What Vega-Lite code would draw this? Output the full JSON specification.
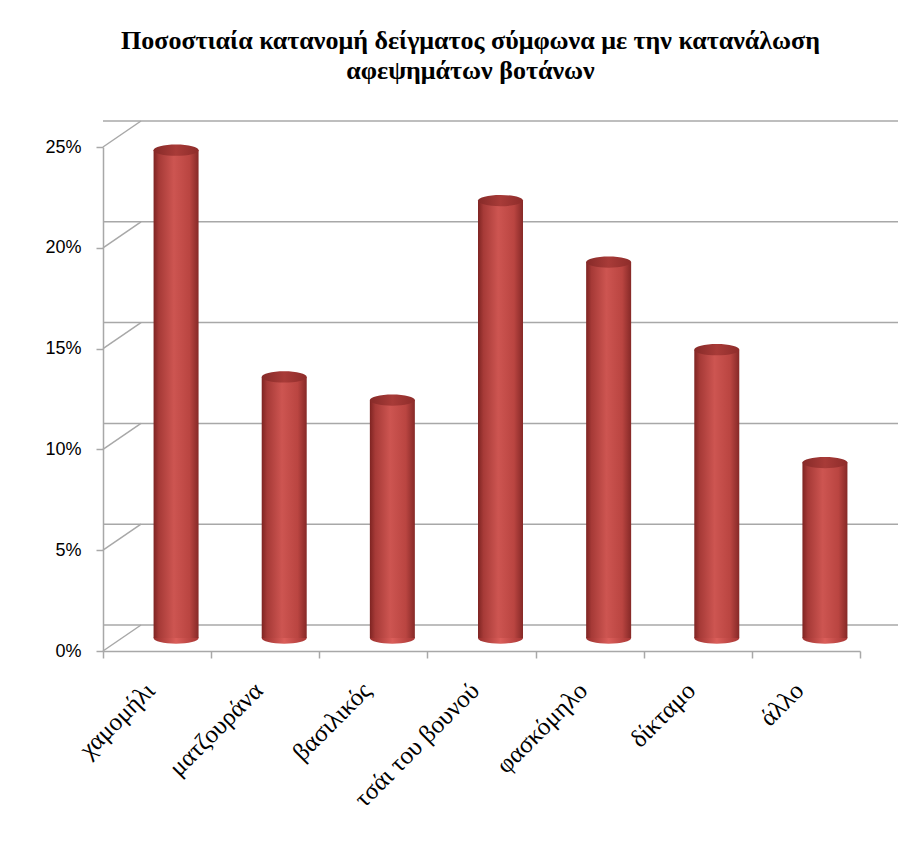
{
  "$schema": "https://vega.github.io/schema/vega-lite/v6.json",
  "autosize": "none",
  "width": 757,
  "height": 504,
  "padding": {"left": 103, "top": 147, "right": 62, "bottom": 192},
  "background": "white",
  "config": {"view": {"stroke": null}},
  "title": {
    "text": ["Ποσοστιαία κατανομή δείγματος σύμφωνα με την κατανάλωση", "αφεψημάτων βοτάνων"],
    "font": "Liberation Serif",
    "fontSize": 26,
    "fontWeight": "bold",
    "color": "#000000",
    "anchor": "middle",
    "frame": "group",
    "baseline": "bottom",
    "offset": 10,
    "lineHeight": 30,
    "dx": -11
  },
  "datasets": {
    "herbs": [
      {"herb": "χαμομήλι", "pct": 0.242},
      {"herb": "ματζουράνα", "pct": 0.1295},
      {"herb": "βασιλικός", "pct": 0.118},
      {"herb": "τσάι του βουνού", "pct": 0.217},
      {"herb": "φασκόμηλο", "pct": 0.1865},
      {"herb": "δίκταμο", "pct": 0.143},
      {"herb": "άλλο", "pct": 0.087}
    ],
    "ticks": [
      {"t": 0}, {"t": 0.05}, {"t": 0.1}, {"t": 0.15}, {"t": 0.2}, {"t": 0.25}
    ]
  },
  "resolve": {"scale": {"x": "independent"}, "axis": {"x": "independent"}},
  "layer": [
    {
      "layer": [
        {
          "data": {"name": "ticks"},
          "mark": {"type": "rule", "color": "#A8A8A8", "strokeWidth": 1.5, "xOffset": 38, "x2Offset": 38, "yOffset": -26, "y2Offset": -26},
          "encoding": {
            "y": {"field": "t", "type": "quantitative", "scale": {"domain": [0, 0.25], "nice": false},
              "axis": {
                "values": [0, 0.05, 0.1, 0.15, 0.2, 0.25],
                "format": ".0%",
                "grid": false,
                "title": null,
                "domainColor": "#A8A8A8",
                "domainWidth": 1.5,
                "tickColor": "#A8A8A8",
                "tickWidth": 1.5,
                "tickSize": 7,
                "labelPadding": 15,
                "labelFont": "Liberation Sans",
                "labelFontSize": 18,
                "labelColor": "#000000"
              }
            }
          }
        },
        {
          "data": {"name": "ticks"},
          "mark": {"type": "rule", "color": "#A8A8A8", "strokeWidth": 1.5, "x2Offset": 38, "y2Offset": -26},
          "encoding": {
            "x": {"datum": 0, "type": "quantitative", "scale": {"domain": [0, 1]}, "axis": null},
            "x2": {"datum": 0},
            "y": {"field": "t", "type": "quantitative"},
            "y2": {"field": "t"}
          }
        },
        {
          "mark": {"type": "rule", "color": "#A8A8A8", "strokeWidth": 1.5, "xOffset": 38, "yOffset": -26, "y2Offset": -26},
          "encoding": {
            "x": {"datum": 0, "type": "quantitative", "scale": {"domain": [0, 1]}, "axis": null},
            "y": {"datum": 0, "type": "quantitative"},
            "y2": {"datum": 0.25}
          }
        },
        {
          "mark": {"type": "rule", "color": "#A8A8A8", "strokeWidth": 1.5, "x2Offset": 38, "y2Offset": -26},
          "encoding": {
            "x": {"datum": 1, "type": "quantitative", "scale": {"domain": [0, 1]}, "axis": null},
            "x2": {"datum": 1},
            "y": {"datum": 0, "type": "quantitative"},
            "y2": {"datum": 0}
          }
        }
      ]
    },
    {
      "data": {"name": "herbs"},
      "encoding": {
        "x": {"field": "herb", "type": "nominal", "sort": null,
          "scale": {"paddingInner": 0, "paddingOuter": 0},
          "axis": {
            "title": null,
            "domainColor": "#A8A8A8",
            "domainWidth": 1.5,
            "tickColor": "#A8A8A8",
            "tickWidth": 1.5,
            "tickSize": 7,
            "tickBand": "extent",
            "labelAngle": -45,
            "labelAlign": "right",
            "labelBaseline": "middle",
            "labelPadding": 28,
            "labelOffset": -7,
            "labelFont": "Liberation Serif",
            "labelFontSize": 25,
            "labelColor": "#000000"
          }
        }
      },
      "layer": [
        {
          "mark": {
            "type": "point", "filled": true, "size": 2025, "opacity": 1,
            "shape": "M-1,0 A1,0.25 0 1,0 1,0 A1,0.25 0 1,0 -1,0 Z",
            "xOffset": 19, "yOffset": -13,
            "fill": {"gradient": "linear", "x1": 0, "y1": 0, "x2": 1, "y2": 0,
              "stops": [
                {"offset": 0, "color": "#9A2F2D"},
                {"offset": 0.5, "color": "#DA5E5A"},
                {"offset": 1, "color": "#A83634"}
              ]}
          },
          "encoding": {
            "y": {"datum": 0, "type": "quantitative"}
          }
        },
        {
          "mark": {
            "type": "bar", "width": 45, "xOffset": 19, "yOffset": -13, "y2Offset": -13,
            "fill": {"gradient": "linear", "x1": 0, "y1": 0, "x2": 1, "y2": 0,
              "stops": [
                {"offset": 0, "color": "#7E2422"},
                {"offset": 0.12, "color": "#A63A37"},
                {"offset": 0.45, "color": "#CD5551"},
                {"offset": 0.8, "color": "#BA4541"},
                {"offset": 1, "color": "#862927"}
              ]}
          },
          "encoding": {
            "y": {"field": "pct", "type": "quantitative"}
          }
        },
        {
          "mark": {
            "type": "point", "filled": true, "size": 2025, "opacity": 1,
            "shape": "M-1,0 A1,0.25 0 1,0 1,0 A1,0.25 0 1,0 -1,0 Z",
            "xOffset": 19, "yOffset": -13,
            "fill": {"gradient": "linear", "x1": 0, "y1": 0, "x2": 1, "y2": 0,
              "stops": [
                {"offset": 0, "color": "#862A28"},
                {"offset": 0.5, "color": "#A83B38"},
                {"offset": 1, "color": "#8E2C2A"}
              ]}
          },
          "encoding": {
            "y": {"field": "pct", "type": "quantitative"}
          }
        }
      ]
    }
  ]
}
